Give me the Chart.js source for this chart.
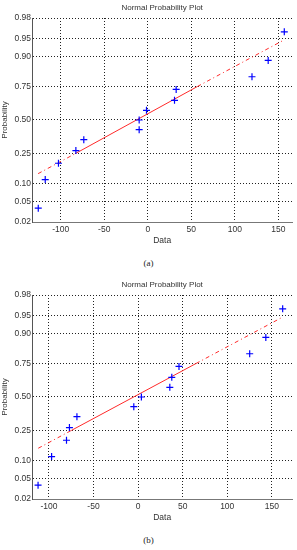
<!DOCTYPE html>
<html><head><meta charset="utf-8">
<script src="https://cdn.jsdelivr.net/npm/chart.js@4/dist/chart.umd.min.js"></script>
<style>
html,body{margin:0;padding:0;background:#fff;width:297px;height:550px;overflow:hidden}
.c{position:absolute;left:0;width:297px;height:250px}
.c canvas{display:block}
.cap{position:absolute;left:0;width:297px;text-align:center;font:9px "Liberation Serif",serif;color:#222;height:14px;line-height:14px}
</style></head><body>
<div class="c" style="top:0"><canvas id="ca" width="297" height="250"></canvas></div>
<div class="cap" style="top:256px">(a)</div>
<div class="c" style="top:277px"><canvas id="cb" width="297" height="250"></canvas></div>
<div class="cap" style="top:533px">(b)</div>
<script>
// ---- data ----
const probabilities = [0.038, 0.115, 0.192, 0.269, 0.346, 0.423, 0.500, 0.577, 0.654, 0.731, 0.808, 0.885, 0.962];
const dataA = [-125.8, -117.8, -102.6, -82.6, -73.5, -9.9, -9.9, -1.5, 30.7, 32.6, 119.7, 138.3, 156.8];
const dataB = [-112.2, -97.0, -80.3, -77.0, -68.6, -4.8, 3.7, 35.6, 37.8, 45.9, 125.2, 143.3, 162.2];
const fitXA = [-126, -83, 57, 157];
const fitPA = [0.14, 0.25, 0.75, 0.947];
const fitXB = [-112, -75, 65, 162];
const fitPB = [0.151, 0.25, 0.75, 0.946];
const xTickValues = [-100, -50, 0, 50, 100, 150];
const probTickValues = [0.02, 0.05, 0.10, 0.25, 0.50, 0.75, 0.90, 0.95, 0.98];
const probTickLabels = ['0.02', '0.05', '0.10', '0.25', '0.50', '0.75', '0.90', '0.95', '0.98'];
const xRangeA = [-133, 166];
const xRangeB = [-119, 173];
const titleText = 'Normal Probability Plot';
const xTitle = 'Data';
const yTitle = 'Probability';

// inverse normal CDF (Acklam)
function probit(p) {
  const a = [-3.969683028665376e+01, 2.209460984245205e+02, -2.759285104469687e+02, 1.383577518672690e+02, -3.066479806614716e+01, 2.506628277459239e+00];
  const b = [-5.447609879822406e+01, 1.615858368580409e+02, -1.556989798598866e+02, 6.680131188771972e+01, -1.328068155288572e+01];
  const c = [-7.784894002430293e-03, -3.223964580411365e-01, -2.400758277161838e+00, -2.549732539343734e+00, 4.374664141464968e+00, 2.938163982698783e+00];
  const d = [7.784695709041462e-03, 3.224671290700398e-01, 2.445134137142996e+00, 3.754408661907416e+00];
  const pl = 0.02425, ph = 1 - pl;
  let q, r;
  if (p < pl) { q = Math.sqrt(-2 * Math.log(p)); return (((((c[0]*q+c[1])*q+c[2])*q+c[3])*q+c[4])*q+c[5]) / ((((d[0]*q+d[1])*q+d[2])*q+d[3])*q+1); }
  if (p <= ph) { q = p - 0.5; r = q*q; return (((((a[0]*r+a[1])*r+a[2])*r+a[3])*r+a[4])*r+a[5])*q / (((((b[0]*r+b[1])*r+b[2])*r+b[3])*r+b[4])*r+1); }
  q = Math.sqrt(-2 * Math.log(1 - p)); return -(((((c[0]*q+c[1])*q+c[2])*q+c[3])*q+c[4])*q+c[5]) / ((((d[0]*q+d[1])*q+d[2])*q+d[3])*q+1);
}

const FONT = '"Liberation Sans", Arial, sans-serif';
const TXT = '#333';

function makeChart(id, xs, fitX, fitP, xRange) {
  const pts = xs.map((x, i) => ({x: x, y: probit(probabilities[i])}));
  const fit = fitX.map((x, i) => ({x: x, y: probit(fitP[i])}));
  return new Chart(document.getElementById(id), {
    type: 'scatter',
    data: {
      datasets: [
        {
          type: 'scatter', data: pts,
          pointStyle: 'cross', pointRadius: 3.5, pointHoverRadius: 3.5,
          borderColor: '#0000ff', backgroundColor: '#0000ff', pointBorderWidth: 1.2
        },
        {
          type: 'line', data: fit, showLine: true,
          borderColor: '#ff2a2a', borderWidth: 1, pointRadius: 0, fill: false, tension: 0,
          segment: { borderDash: ctx => ctx.p0DataIndex === 1 ? [] : [4, 3, 1, 3] }
        }
      ]
    },
    options: {
      responsive: false, animation: false, devicePixelRatio: 1,
      layout: { padding: { left: 0, right: 2, top: 0, bottom: 0 } },
      plugins: {
        legend: { display: false }, tooltip: { enabled: false },
        title: {
          display: true, text: titleText, fullSize: false, color: TXT,
          font: { family: FONT, size: 8, weight: 'normal' },
          padding: { top: 3, bottom: 5.4 }
        }
      },
      scales: {
        x: {
          type: 'linear', min: xRange[0], max: xRange[1],
          afterBuildTicks: s => { s.ticks = xTickValues.map(v => ({value: v})); },
          afterFit: s => { s.height = 28; },
          ticks: { color: TXT, font: { family: FONT, size: 8.5 }, padding: 3, autoSkip: false, maxRotation: 0 },
          grid: { color: '#222', lineWidth: 1, drawTicks: false },
          border: { display: true, color: '#777', width: 1, dash: [1, 2] },
          title: { display: true, text: xTitle, color: TXT, font: { family: FONT, size: 8.5 }, padding: { top: 0, bottom: 4 } }
        },
        y: {
          type: 'linear', min: probit(0.02), max: probit(0.98),
          afterBuildTicks: s => { s.ticks = probTickValues.map(p => ({value: probit(p)})); },
          afterFit: s => { s.width = 32; },
          ticks: { color: TXT, font: { family: FONT, size: 8.5 }, padding: 1, autoSkip: false,
                   callback: (v, i) => probTickLabels[i] },
          grid: { color: '#222', lineWidth: 1, drawTicks: false },
          border: { display: true, color: '#555', width: 1, dash: [1, 2] },
          title: { display: true, text: yTitle, color: TXT, font: { family: FONT, size: 8 }, padding: { top: 0, bottom: 0 } }
        }
      }
    }
  });
}

const chA = makeChart('ca', dataA, fitXA, fitPA, xRangeA);
const chB = makeChart('cb', dataB, fitXB, fitPB, xRangeB);
</script>
</body></html>
